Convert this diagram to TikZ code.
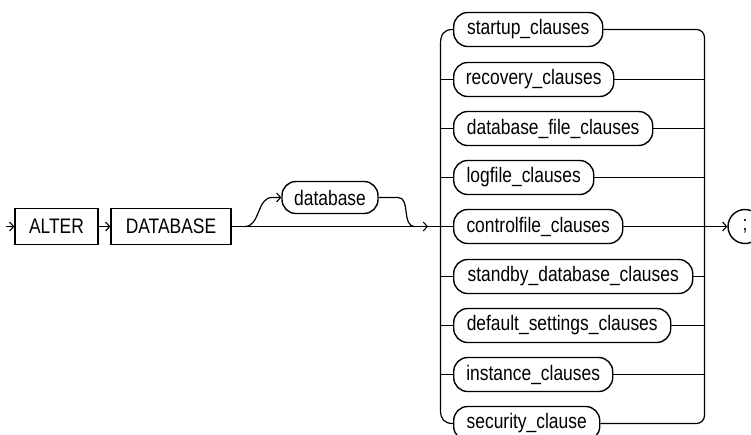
\documentclass[tikz,border=0pt]{standalone}
\usepackage{fontspec}
\setmainfont{Liberation Sans}[FakeStretch=0.83]
\usetikzlibrary{arrows.meta}
\begin{document}
\begin{tikzpicture}[x=1pt,y=-1pt,
  ln/.style={line width=1.2pt, line join=round},
  arr/.style={ln, -{Straight Barb[length=4pt,width=9pt,line width=1.1pt]}},
  rbox/.style={draw, line width=1.4pt, rounded corners=14pt, minimum height=34pt,
    inner xsep=12pt, inner ysep=0pt, font=\fontsize{21}{23}\selectfont, anchor=west},
  sbox/.style={draw, line width=1.4pt, minimum height=36pt, inner xsep=6pt,
    inner ysep=0pt, font=\fontsize{21}{23}\selectfont},
  endc/.style={draw, circle, line width=1.4pt, minimum size=34pt, inner sep=0pt,
    font=\fontsize{21}{23}\selectfont}]
\useasboundingbox[fill=white] (0,0) rectangle (751,434);

% start
\node[sbox, minimum width=83pt] (alter) at (56.5,226.5) {ALTER};
\node[sbox, minimum width=120pt] (dbkw) at (171,226.5) {DATABASE};
\coordinate (s) at (6,226.5);
\draw[arr] (s) -- (alter.west);
\draw[arr] (alter.east) -- (dbkw.west);

% optional database
\node[rbox, anchor=center, minimum width=96pt, minimum height=32pt] (db) at (330,197.5) {database};
\coordinate (b1) at (245,226.5);
\coordinate (b2) at (272,197.5);
\coordinate (b3) at (398,197.5);
\coordinate (b4) at (415,226.5);
\draw[arr] (b1) .. controls (260,226.5) and (257,197.5) .. (b2) -- (db.west);
\draw[ln] (db.east) -- (b3) .. controls (411,197.5) and (401,226.5) .. (b4);

% choice rows
\node[rbox, minimum width=149pt] (r1) at (453,29.5) {startup\_clauses};
\node[rbox, minimum width=160pt] (r2) at (453,79.5) {recovery\_clauses};
\node[rbox, minimum width=199pt] (r3) at (453,128.5) {database\_file\_clauses};
\node[rbox, minimum width=140pt] (r4) at (453,177.5) {logfile\_clauses};
\node[rbox, minimum width=169pt] (r5) at (453,226.5) {controlfile\_clauses};
\node[rbox, minimum width=239pt] (r6) at (453,276.5) {standby\_database\_clauses};
\node[rbox, minimum width=217pt] (r7) at (453,325.5) {default\_settings\_clauses};
\node[rbox, minimum width=159pt] (r8) at (453,374.5) {instance\_clauses};
\node[rbox, minimum width=146pt] (r9) at (453,423.5) {security\_clause};

\node[endc] (semi) at (745,226.5) {;};

% main line into choice
\coordinate (m1) at (428,226.5);
\draw[arr] (dbkw.east) -- (m1);
\draw[ln] (m1) -- (r5.west);

% left rail
\draw[ln] (r1.west) .. controls (444,29.5) and (440.5,34) .. (440.5,44) -- (440.5,410)
  .. controls (440.5,419) and (444,423.5) .. (r9.west);
\foreach \r/\y in {r2/79.5,r3/128.5,r4/177.5,r6/276.5,r7/325.5,r8/374.5}
  \draw[ln] (440.5,\y) -- (\r.west);

% right rail
\coordinate (rr) at (704.5,226.5);
\draw[ln, rounded corners=8pt] (r1.east) -| (rr) |- (r9.east);
\foreach \r/\y in {r2/79.5,r3/128.5,r4/177.5,r5/226.5,r6/276.5,r7/325.5,r8/374.5}
  \draw[ln] (\r.east) -- (704.5,\y);
\draw[arr] (rr) -- (semi.west);
\end{tikzpicture}
\end{document}
